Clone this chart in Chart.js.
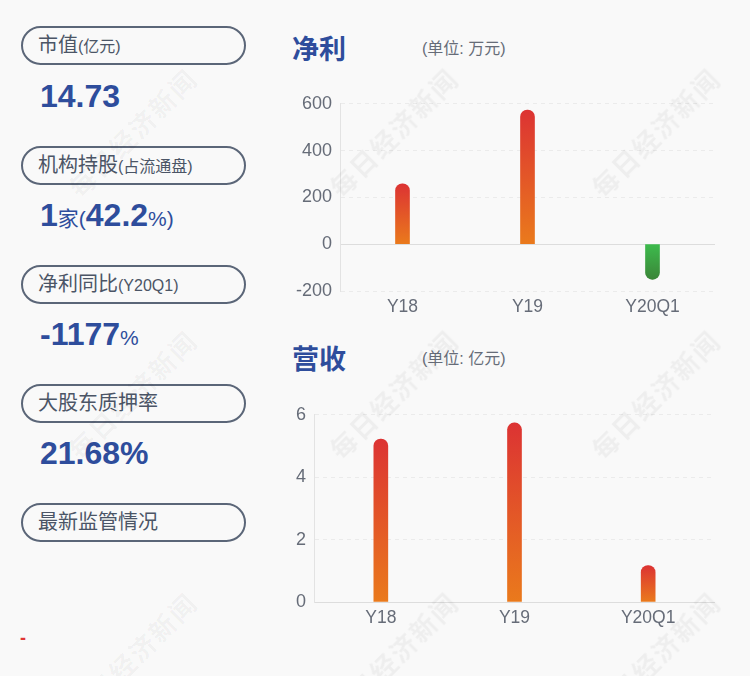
<!DOCTYPE html>
<html>
<head>
<meta charset="utf-8">
<script src="https://cdn.jsdelivr.net/npm/chart.js@4/dist/chart.umd.min.js"></script>
<style>
body{margin:0;background:#f9f9f9;width:750px;height:676px;overflow:hidden;position:relative;font-family:"Liberation Sans","Noto Sans CJK SC",sans-serif;}
.pill{position:absolute;left:21px;width:225px;height:39px;box-sizing:border-box;border:2px solid #5b6678;border-radius:20px;color:#4b5566;font-size:20px;line-height:35px;padding-left:15px;white-space:nowrap;}
.pill small{font-size:16px;}
.val{position:absolute;left:40px;color:#2e4d9c;font-weight:bold;font-size:32px;line-height:36px;white-space:nowrap;}
.val span{font-size:21px;font-weight:normal;}
.title{position:absolute;left:292px;color:#2e4d9c;font-weight:bold;font-size:27px;line-height:32px;}
.unit{position:absolute;left:422px;color:#666c78;font-size:16px;line-height:20px;}
.box{position:absolute;left:280px;width:450px;height:242px;}
.wm{position:absolute;color:rgba(0,0,0,0.045);font-weight:bold;font-size:26px;letter-spacing:2px;white-space:nowrap;transform:translate(-50%,-50%) rotate(-45deg);pointer-events:none;z-index:5;}
</style>
</head>
<body>

<div class="pill" style="top:26px">市值<small>(亿元)</small></div>
<div class="val" style="top:78px">14.73</div>

<div class="pill" style="top:146px">机构持股<small>(占流通盘)</small></div>
<div class="val" style="top:197px">1<span>家(</span>42.2<span>%)</span></div>

<div class="pill" style="top:265px">净利同比<small>(Y20Q1)</small></div>
<div class="val" style="top:316px">-1177<span>%</span></div>

<div class="pill" style="top:384px">大股东质押率</div>
<div class="val" style="top:435px">21.68%</div>

<div class="pill" style="top:503px">最新监管情况</div>

<div style="position:absolute;left:20px;top:628px;color:#e03535;font-size:18px;font-weight:bold;line-height:20px;">-</div>

<div class="title" style="top:34px">净利</div>
<div class="unit" style="top:39px">(单位: 万元)</div>
<div class="box" style="top:85px"><canvas id="profitChart"></canvas></div>

<div class="title" style="top:344px">营收</div>
<div class="unit" style="top:349px">(单位: 亿元)</div>
<div class="box" style="top:396px"><canvas id="revenueChart"></canvas></div>

<div id="marks"></div>

<script>
const categories = ['Y18', 'Y19', 'Y20Q1'];
const profitValues = [258, 573, -150];     // 万元
const revenueValues = [5.22, 5.74, 1.17];  // 亿元
const profitTicks = [-200, 0, 200, 400, 600];
const revenueTicks = [0, 2, 4, 6];

// =====================
// BAR GRADIENT
// =====================
function barFill(ctx) {
    const chart = ctx.chart;
    if (!chart.chartArea) return '#e05a2a';
    const y = chart.scales.y;
    const v = ctx.raw;
    const y0 = y.getPixelForValue(0);
    const y1 = y.getPixelForValue(v);
    const g = chart.ctx.createLinearGradient(0, Math.min(y0, y1), 0, Math.max(y0, y1) + 0.01);
    if (v >= 0) {
        g.addColorStop(0, '#dc3333');
        g.addColorStop(1, '#ea7a1c');
    } else {
        g.addColorStop(0, '#3dbb4d');
        g.addColorStop(1, '#3b8638');
    }
    return g;
}

// =====================
// RENDER BAR CHART
// =====================
function renderBarChart(id, values, ticks, axisWidth) {
    const ctx = document.getElementById(id).getContext('2d');
    return new Chart(ctx, {
        type: 'bar',
        data: {
            labels: categories,
            datasets: [{
                data: values,
                backgroundColor: barFill,
                barThickness: 14,
                borderRadius: 7,
                borderSkipped: 'start',
            }]
        },
        options: {
            responsive: true,
            maintainAspectRatio: false,
            animation: false,
            layout: { padding: { top: 10, right: 15 } },
            plugins: { legend: { display: false }, tooltip: { enabled: false } },
            scales: {
                y: {
                    min: ticks[0],
                    max: ticks[ticks.length - 1],
                    afterBuildTicks: s => { s.ticks = ticks.map(v => ({ value: v })); },
                    afterFit: s => { s.width = axisWidth; },
                    ticks: {
                        padding: 8,
                        font: { family: 'Liberation Sans', size: 18 },
                        color: '#666c78',
                    },
                    grid: {
                        drawTicks: false,
                        color: c => (c.tick && c.tick.value === 0) ? '#dddddd' : '#ebebeb',
                    },
                    border: {
                        color: '#e3e3e3',
                        dash: c => (c.tick && c.tick.value !== 0) ? [4, 4] : [],
                    },
                },
                x: {
                    afterFit: s => { s.height = 36; },
                    ticks: {
                        padding: 6,
                        font: { family: 'Liberation Sans', size: 17.5 },
                        color: '#666c78',
                    },
                    grid: { display: false, drawTicks: false },
                    border: { display: false },
                }
            }
        }
    });
}

renderBarChart('profitChart', profitValues, profitTicks, 60);
renderBarChart('revenueChart', revenueValues, revenueTicks, 34);

// watermark
const markXs = [132, 393, 655];
const markYs = [132, 394, 656];
let html = '';
markYs.forEach(y => markXs.forEach(x => {
    html += `<div class="wm" style="left:${x}px;top:${y}px">每日经济新闻</div>`;
}));
document.getElementById('marks').innerHTML = html;
</script>
</body>
</html>
